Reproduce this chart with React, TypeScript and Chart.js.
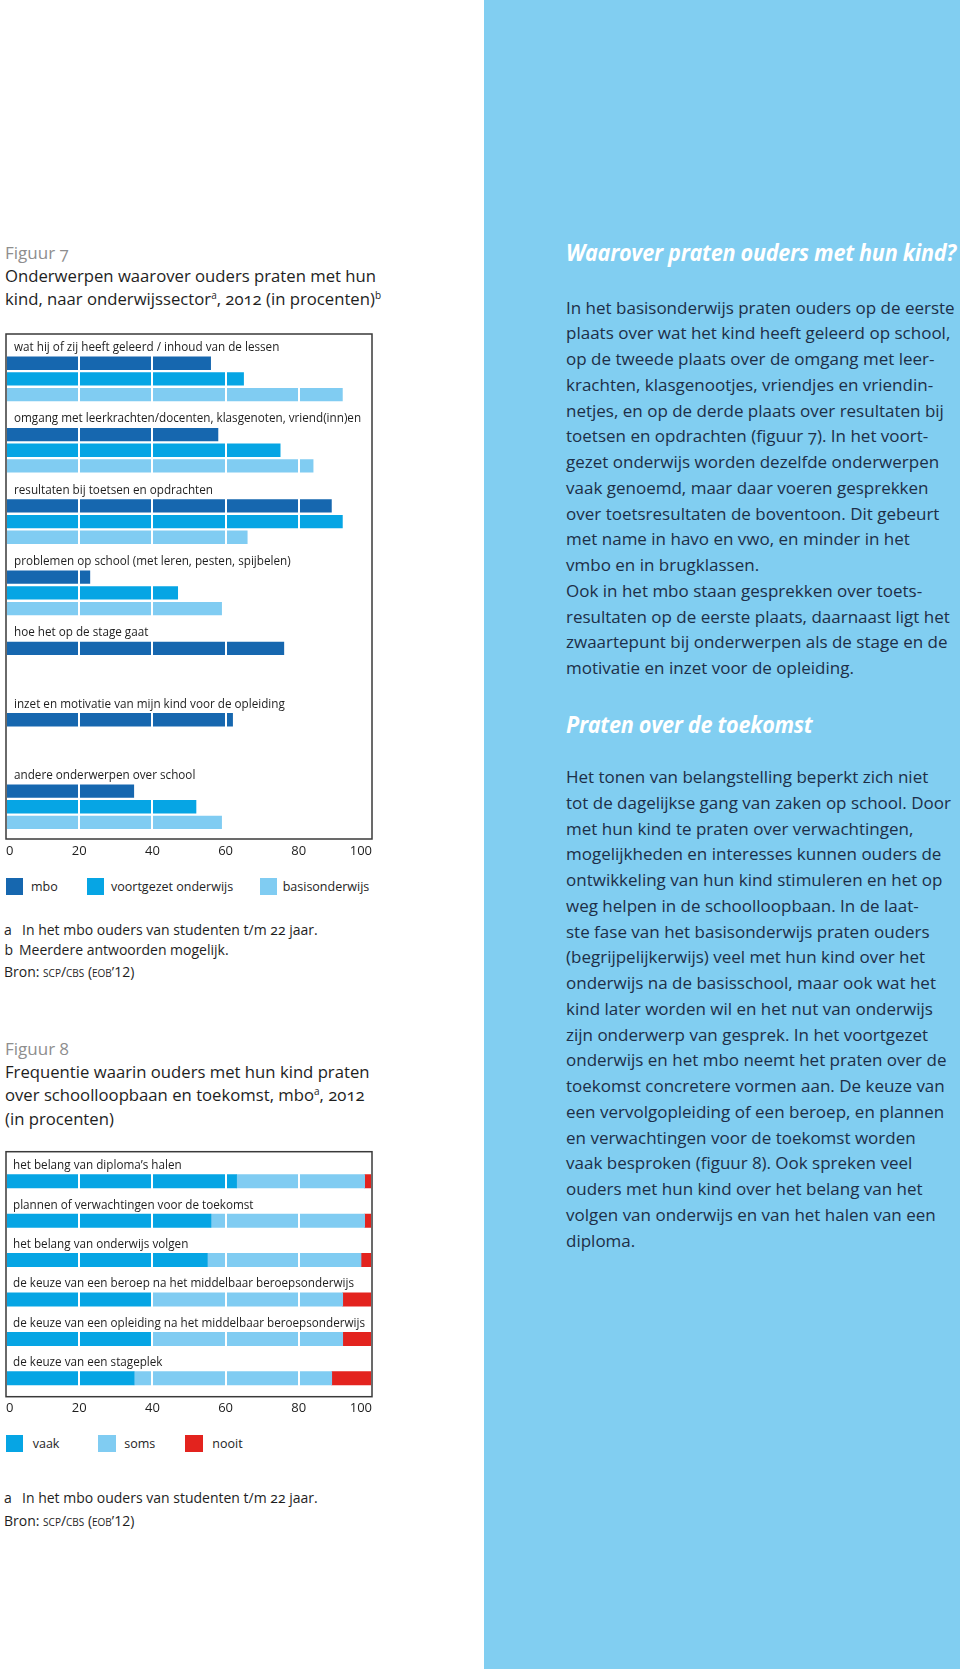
import React, { useEffect, useRef } from "react";
import { Chart, registerables } from "chart.js";

Chart.register(...registerables);

// ---------- DATA ----------
const fig7Topics = [
  "wat hij of zij heeft geleerd / inhoud van de lessen",
  "omgang met leerkrachten/docenten, klasgenoten, vriend(inn)en",
  "resultaten bij toetsen en opdrachten",
  "problemen op school (met leren, pesten, spijbelen)",
  "hoe het op de stage gaat",
  "inzet en motivatie van mijn kind voor de opleiding",
  "andere onderwerpen over school",
];
const fig7Series = ["mbo", "voortgezet onderwijs", "basisonderwijs"];
const fig7Mbo = [56, 58, 89, 23, 76, 62, 35];
const fig7Vo = [65, 75, 92, 47, null, null, 52];
const fig7Bao = [92, 84, 66, 59, null, null, 59];

const fig8Topics = [
  "het belang van diploma\u2019s halen",
  "plannen of verwachtingen voor de toekomst",
  "het belang van onderwijs volgen",
  "de keuze van een beroep na het middelbaar beroepsonderwijs",
  "de keuze van een opleiding na het middelbaar beroepsonderwijs",
  "de keuze van een stageplek",
];
const fig8Series = ["vaak", "soms", "nooit"];
const fig8Vaak = [63, 56, 55, 40, 40, 35];
const fig8Soms = [35, 42, 42, 52, 52, 54];
const fig8Nooit = [2, 2, 3, 8, 8, 11];

const xTickLabels = ["0", "20", "40", "60", "80", "100"];

const para1 = [
  "In het basisonderwijs praten ouders op de eerste",
  "plaats over wat het kind heeft geleerd op school,",
  "op de tweede plaats over de omgang met leer-",
  "krachten, klasgenootjes, vriendjes en vriendin-",
  "netjes, en op de derde plaats over resultaten bij",
  "toetsen en opdrachten (figuur 7). In het voort-",
  "gezet onderwijs worden dezelfde onderwerpen",
  "vaak genoemd, maar daar voeren gesprekken",
  "over toetsresultaten de boventoon. Dit gebeurt",
  "met name in havo en vwo, en minder in het",
  "vmbo en in brugklassen.",
  "Ook in het mbo staan gesprekken over toets-",
  "resultaten op de eerste plaats, daarnaast ligt het",
  "zwaartepunt bij onderwerpen als de stage en de",
  "motivatie en inzet voor de opleiding.",
];
const para2 = [
  "Het tonen van belangstelling beperkt zich niet",
  "tot de dagelijkse gang van zaken op school. Door",
  "met hun kind te praten over verwachtingen,",
  "mogelijkheden en interesses kunnen ouders de",
  "ontwikkeling van hun kind stimuleren en het op",
  "weg helpen in de schoolloopbaan. In de laat-",
  "ste fase van het basisonderwijs praten ouders",
  "(begrijpelijkerwijs) veel met hun kind over het",
  "onderwijs na de basisschool, maar ook wat het",
  "kind later worden wil en het nut van onderwijs",
  "zijn onderwerp van gesprek. In het voortgezet",
  "onderwijs en het mbo neemt het praten over de",
  "toekomst concretere vormen aan. De keuze van",
  "een vervolgopleiding of een beroep, en plannen",
  "en verwachtingen voor de toekomst worden",
  "vaak besproken (figuur 8). Ook spreken veel",
  "ouders met hun kind over het belang van het",
  "volgen van onderwijs en van het halen van een",
  "diploma.",
];

const SOURCE = "scp/cbs (eob\u201912)";
const NOTE_A = "In het mbo ouders van studenten t/m 22 jaar.";
const NOTE_B = "Meerdere antwoorden mogelijk.";

// ---------- STYLE ----------
const FONT = "'Open Sans', 'Noto Sans', sans-serif";
const C_MBO = "#1667AF";
const C_VO = "#06A5E4";
const C_BAO = "#80CCF2";
const C_RED = "#E3231E";
const C_PANEL = "#81CEF1";
const C_FRAME = "#3a3a3a";
const C_TEXT = "#1e1e1e";
const C_BODY = "#1d2f48";

function framePlugin(id: string, topOff: number, botOff: number, labels: string[], dx: number) {
  return {
    id,
    afterDraw(chart: any) {
      const { ctx, chartArea: a } = chart;
      ctx.save();
      ctx.strokeStyle = C_FRAME;
      ctx.lineWidth = 1.5;
      const top = a.top - topOff;
      const bottom = a.bottom - botOff;
      ctx.strokeRect(a.left, top, a.right - a.left, bottom - top);
      const meta = chart.getDatasetMeta(0);
      ctx.fillStyle = C_TEXT;
      ctx.font = `11.7px ${FONT}`;
      ctx.textBaseline = "alphabetic";
      ctx.textAlign = "left";
      labels.forEach((t, i) => {
        const el = meta.data[i];
        if (!el) return;
        const barTop = el.y - el.height / 2;
        ctx.fillText(t, a.left + dx, barTop - 5.5);
      });
      ctx.restore();
    },
  };
}

function xScale(padding: number) {
  return {
    min: 0,
    max: 100,
    stacked: true,
    ticks: {
      stepSize: 20,
      align: "inner",
      padding,
      color: C_TEXT,
      font: { family: FONT, size: 13 },
      callback: (_v: any, i: number) => xTickLabels[i],
    },
    grid: { color: "#ffffff", lineWidth: 2, z: 1, drawTicks: false },
    border: { display: false },
    afterFit: (s: any) => {
      s.height = 20;
    },
  };
}

function Fig7Chart() {
  const ref = useRef<HTMLCanvasElement | null>(null);
  useEffect(() => {
    const chart = new Chart(ref.current as HTMLCanvasElement, {
      type: "bar",
      data: {
        labels: fig7Topics,
        datasets: [
          { label: fig7Series[0], data: fig7Mbo, backgroundColor: C_MBO },
          { label: fig7Series[1], data: fig7Vo, backgroundColor: C_VO },
          { label: fig7Series[2], data: fig7Bao, backgroundColor: C_BAO },
        ],
      },
      options: {
        indexAxis: "y",
        responsive: false,
        animation: false,
        datasets: { bar: { categoryPercentage: 0.66, barPercentage: 0.847, borderWidth: 0 } },
        layout: { padding: { left: 6, right: 8, top: 13.3, bottom: 7.6 } },
        plugins: { legend: { display: false }, tooltip: { enabled: false } },
        scales: {
          x: { ...xScale(1), stacked: false },
          y: { display: false },
        },
      } as any,
      plugins: [framePlugin("frame7", 9.3, 3.4, fig7Topics, 8)],
    });
    return () => chart.destroy();
  }, []);
  return (
    <canvas
      ref={ref}
      width={380}
      height={540}
      style={{ position: "absolute", left: 0, top: 330, width: 380, height: 540 }}
    />
  );
}

function Fig8Chart() {
  const ref = useRef<HTMLCanvasElement | null>(null);
  useEffect(() => {
    const chart = new Chart(ref.current as HTMLCanvasElement, {
      type: "bar",
      data: {
        labels: fig8Topics,
        datasets: [
          { label: fig8Series[0], data: fig8Vaak, backgroundColor: C_VO },
          { label: fig8Series[1], data: fig8Soms, backgroundColor: C_BAO },
          { label: fig8Series[2], data: fig8Nooit, backgroundColor: C_RED },
        ],
      },
      options: {
        indexAxis: "y",
        responsive: false,
        animation: false,
        datasets: { bar: { barThickness: 13.3, borderWidth: 0 } },
        layout: { padding: { left: 6, right: 8, top: 13.6, bottom: 10 } },
        plugins: { legend: { display: false }, tooltip: { enabled: false } },
        scales: {
          x: xScale(2.6),
          y: { display: false, stacked: true },
        },
      } as any,
      plugins: [framePlugin("frame8", 9.9, 1.3, fig8Topics, 7)],
    });
    return () => chart.destroy();
  }, []);
  return (
    <canvas
      ref={ref}
      width={380}
      height={280}
      style={{ position: "absolute", left: 0, top: 1148, width: 380, height: 280 }}
    />
  );
}

const abs = (left: number, top: number, extra: any = {}) => ({
  position: "absolute" as const,
  left,
  top,
  whiteSpace: "nowrap" as const,
  ...extra,
});

const sup: any = { fontSize: 10, position: "relative", top: -6, lineHeight: 0 };

const headingStyle: any = {
  fontSize: 24,
  lineHeight: "30px",
  fontWeight: 700,
  fontStyle: "italic",
  color: "#fff",
  transform: "scaleX(0.9)",
  transformOrigin: "left center",
  letterSpacing: -0.3,
};

function Legend({ items, colors, squareX, textX, top }: any) {
  return (
    <>
      {items.map((t: string, i: number) => (
        <React.Fragment key={t}>
          <div style={abs(squareX[i], top, { width: 17.3, height: 17, background: colors[i] })} />
          <div style={abs(textX[i], top - 2, { fontSize: 12.5, lineHeight: "21px", color: C_TEXT })}>{t}</div>
        </React.Fragment>
      ))}
    </>
  );
}

export default function App() {
  const onum: any = { fontVariantNumeric: "oldstyle-nums" };
  return (
    <div
      style={{
        position: "absolute",
        left: 0,
        top: 0,
        width: 960,
        height: 1669,
        overflow: "hidden",
        background: "#fff",
        fontFamily: FONT,
        color: C_TEXT,
      }}
    >
      {/* right panel */}
      <div style={{ position: "absolute", left: 484, top: 0, width: 476, height: 1669, background: C_PANEL }} />
      <div style={abs(566, 237, headingStyle)}>Waarover praten ouders met hun kind?</div>
      <div style={abs(566, 294.7, { fontSize: 17, lineHeight: "25.75px", color: C_BODY, ...onum })}>
        {para1.map((l, i) => (
          <div key={i}>{l}</div>
        ))}
      </div>
      <div style={abs(566, 708.7, headingStyle)}>Praten over de toekomst</div>
      <div style={abs(566, 764.1, { fontSize: 17, lineHeight: "25.75px", color: C_BODY, ...onum })}>
        {para2.map((l, i) => (
          <div key={i}>{l}</div>
        ))}
      </div>

      {/* Figure 7 */}
      <div style={abs(5, 241, { fontSize: 17, lineHeight: "23px", color: "#8e8e8e", ...onum })}>Figuur 7</div>
      <div style={abs(5, 263.5, { fontSize: 16.7, lineHeight: "23px", color: C_TEXT, ...onum })}>
        Onderwerpen waarover ouders praten met hun
        <br />
        kind, naar onderwijssector<span style={sup}>a</span>, 2012 (in procenten)<span style={sup}>b</span>
      </div>
      <Fig7Chart />
      <Legend
        items={fig7Series}
        colors={[C_MBO, C_VO, C_BAO]}
        squareX={[6, 86.7, 260]}
        textX={[31, 111, 282.7]}
        top={877.7}
      />
      <div style={abs(4, 919.6, { fontSize: 14, lineHeight: "20px", ...onum })}>
        <span style={{ display: "inline-block", width: 18 }}>a</span>
        {NOTE_A}
      </div>
      <div style={abs(4.5, 939.6, { fontSize: 14, lineHeight: "20px", ...onum })}>
        <span style={{ display: "inline-block", width: 14.5 }}>b</span>
        {NOTE_B}
      </div>
      <div style={abs(4, 962, { fontSize: 14, lineHeight: "20px", ...onum })}>
        Bron: <span style={{ fontVariant: "small-caps" }}>{SOURCE}</span>
      </div>

      {/* Figure 8 */}
      <div style={abs(5, 1037, { fontSize: 17, lineHeight: "23px", color: "#8e8e8e", ...onum })}>Figuur 8</div>
      <div style={abs(5, 1060.2, { fontSize: 16.7, lineHeight: "23.3px", color: C_TEXT, ...onum })}>
        Frequentie waarin ouders met hun kind praten
        <br />
        over schoolloopbaan en toekomst, mbo<span style={sup}>a</span>, 2012
        <br />
        (in procenten)
      </div>
      <Fig8Chart />
      <Legend
        items={fig8Series}
        colors={[C_VO, C_BAO, C_RED]}
        squareX={[6, 98.3, 185.3]}
        textX={[32.7, 124.3, 212.3]}
        top={1435}
      />
      <div style={abs(4, 1488, { fontSize: 14, lineHeight: "20px", ...onum })}>
        <span style={{ display: "inline-block", width: 18 }}>a</span>
        {NOTE_A}
      </div>
      <div style={abs(4, 1511, { fontSize: 14, lineHeight: "20px", ...onum })}>
        Bron: <span style={{ fontVariant: "small-caps" }}>{SOURCE}</span>
      </div>
    </div>
  );
}
